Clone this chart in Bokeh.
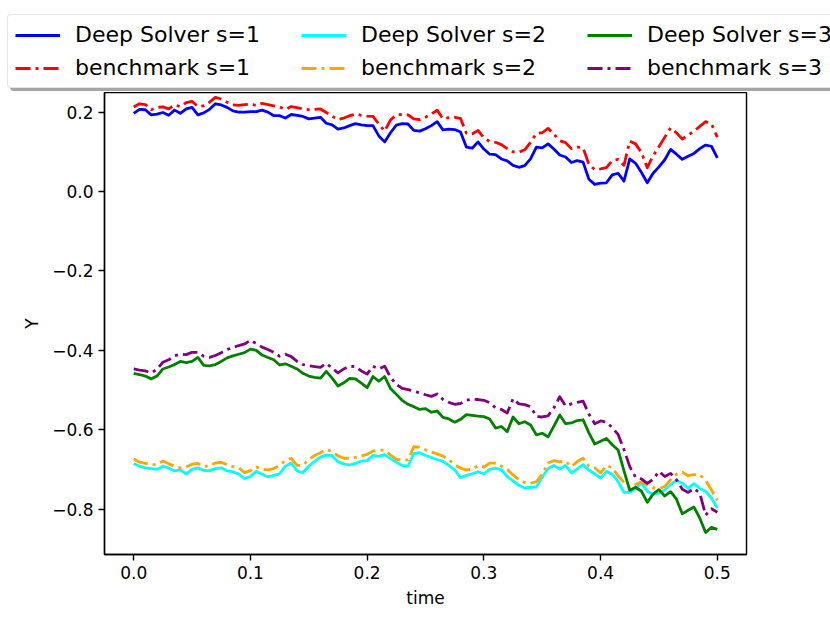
import numpy as np
from bokeh.plotting import figure
from bokeh.models import Legend, LegendItem, FixedTicker, Range1d
from bokeh.layouts import column
from bokeh.embed import file_html
from bokeh.resources import INLINE

time = np.linspace(0.0, 0.5, 101)

ds1 = [0.197,0.207,0.206,0.193,0.195,0.199,0.192,0.205,0.197,0.208,
       0.212,0.193,0.198,0.207,0.221,0.218,0.212,0.203,0.200,0.200,
       0.201,0.201,0.205,0.200,0.191,0.191,0.185,0.194,0.192,0.189,
       0.183,0.185,0.187,0.172,0.168,0.157,0.160,0.166,0.171,0.168,
       0.166,0.166,0.140,0.125,0.148,0.167,0.171,0.170,0.154,0.152,
       0.158,0.166,0.176,0.155,0.157,0.156,0.150,0.112,0.109,0.125,
       0.107,0.094,0.093,0.082,0.077,0.066,0.061,0.065,0.082,0.112,
       0.110,0.120,0.107,0.092,0.087,0.073,0.078,0.074,0.031,0.018,
       0.021,0.022,0.042,0.046,0.026,0.082,0.071,0.048,0.022,0.046,
       0.062,0.080,0.106,0.094,0.081,0.089,0.096,0.108,0.117,0.114,
       0.085]

bm1 = [0.213,0.221,0.219,0.206,0.212,0.213,0.208,0.218,0.214,0.224,
       0.227,0.214,0.216,0.225,0.237,0.233,0.225,0.218,0.217,0.219,
       0.220,0.217,0.222,0.219,0.216,0.213,0.207,0.214,0.211,0.208,
       0.206,0.207,0.208,0.199,0.190,0.181,0.185,0.191,0.195,0.192,
       0.190,0.189,0.170,0.152,0.180,0.193,0.194,0.193,0.183,0.181,
       0.187,0.195,0.205,0.183,0.186,0.187,0.184,0.147,0.145,0.154,
       0.135,0.126,0.124,0.118,0.108,0.100,0.099,0.105,0.124,0.146,
       0.148,0.159,0.145,0.128,0.123,0.108,0.112,0.110,0.068,0.055,
       0.057,0.060,0.078,0.081,0.066,0.127,0.120,0.098,0.060,0.090,
       0.113,0.137,0.160,0.148,0.132,0.142,0.152,0.164,0.176,0.170,
       0.137]

ds2 = [-0.685,-0.692,-0.696,-0.698,-0.700,-0.692,-0.697,-0.704,-0.701,-0.712,
       -0.700,-0.696,-0.703,-0.703,-0.698,-0.696,-0.704,-0.706,-0.712,-0.723,
       -0.718,-0.705,-0.712,-0.719,-0.715,-0.711,-0.692,-0.684,-0.704,-0.708,
       -0.692,-0.680,-0.669,-0.664,-0.665,-0.681,-0.686,-0.689,-0.685,-0.679,
       -0.678,-0.665,-0.667,-0.663,-0.673,-0.682,-0.690,-0.692,-0.660,-0.658,
       -0.665,-0.670,-0.675,-0.680,-0.690,-0.701,-0.721,-0.715,-0.711,-0.706,
       -0.711,-0.700,-0.697,-0.701,-0.718,-0.729,-0.740,-0.747,-0.745,-0.744,
       -0.720,-0.698,-0.690,-0.699,-0.690,-0.709,-0.699,-0.688,-0.702,-0.711,
       -0.722,-0.705,-0.712,-0.731,-0.758,-0.758,-0.748,-0.734,-0.755,-0.763,
       -0.760,-0.752,-0.738,-0.728,-0.735,-0.748,-0.736,-0.748,-0.755,-0.772,
       -0.797]

bm2 = [-0.674,-0.682,-0.685,-0.688,-0.688,-0.679,-0.686,-0.692,-0.696,-0.694,
       -0.687,-0.685,-0.693,-0.690,-0.684,-0.682,-0.688,-0.693,-0.696,-0.708,
       -0.703,-0.694,-0.700,-0.701,-0.698,-0.690,-0.678,-0.672,-0.690,-0.690,
       -0.675,-0.665,-0.658,-0.650,-0.655,-0.666,-0.672,-0.672,-0.670,-0.666,
       -0.662,-0.654,-0.651,-0.652,-0.664,-0.674,-0.678,-0.676,-0.643,-0.644,
       -0.651,-0.656,-0.661,-0.667,-0.676,-0.688,-0.697,-0.701,-0.699,-0.691,
       -0.694,-0.684,-0.684,-0.692,-0.700,-0.714,-0.726,-0.733,-0.735,-0.731,
       -0.712,-0.684,-0.678,-0.681,-0.679,-0.693,-0.680,-0.672,-0.692,-0.696,
       -0.709,-0.690,-0.696,-0.716,-0.733,-0.745,-0.738,-0.731,-0.740,-0.746,
       -0.749,-0.743,-0.726,-0.712,-0.707,-0.716,-0.713,-0.713,-0.728,-0.752,
       -0.778]

ds3 = [-0.458,-0.461,-0.465,-0.472,-0.465,-0.447,-0.442,-0.436,-0.428,-0.431,
       -0.428,-0.418,-0.438,-0.439,-0.436,-0.428,-0.419,-0.414,-0.410,-0.406,
       -0.397,-0.400,-0.412,-0.418,-0.424,-0.437,-0.434,-0.440,-0.447,-0.458,
       -0.465,-0.468,-0.470,-0.453,-0.470,-0.490,-0.482,-0.471,-0.472,-0.483,
       -0.494,-0.466,-0.478,-0.466,-0.496,-0.511,-0.526,-0.536,-0.542,-0.549,
       -0.547,-0.556,-0.553,-0.569,-0.573,-0.581,-0.574,-0.562,-0.564,-0.566,
       -0.567,-0.573,-0.596,-0.592,-0.605,-0.568,-0.585,-0.580,-0.588,-0.613,
       -0.609,-0.618,-0.591,-0.563,-0.585,-0.583,-0.577,-0.575,-0.608,-0.636,
       -0.629,-0.622,-0.638,-0.651,-0.703,-0.753,-0.745,-0.755,-0.783,-0.762,
       -0.751,-0.767,-0.756,-0.775,-0.812,-0.803,-0.795,-0.823,-0.859,-0.846,
       -0.851]

bm3 = [-0.447,-0.450,-0.452,-0.457,-0.448,-0.430,-0.424,-0.414,-0.410,-0.411,
       -0.405,-0.405,-0.415,-0.418,-0.413,-0.406,-0.398,-0.393,-0.388,-0.384,
       -0.375,-0.383,-0.392,-0.398,-0.405,-0.415,-0.410,-0.416,-0.428,-0.436,
       -0.439,-0.441,-0.443,-0.433,-0.445,-0.457,-0.447,-0.440,-0.441,-0.452,
       -0.460,-0.440,-0.447,-0.440,-0.468,-0.486,-0.496,-0.499,-0.503,-0.507,
       -0.512,-0.516,-0.510,-0.524,-0.531,-0.536,-0.534,-0.526,-0.523,-0.524,
       -0.526,-0.532,-0.545,-0.549,-0.558,-0.522,-0.535,-0.537,-0.542,-0.567,
       -0.568,-0.565,-0.545,-0.517,-0.540,-0.535,-0.531,-0.528,-0.561,-0.585,
       -0.578,-0.581,-0.595,-0.612,-0.650,-0.693,-0.720,-0.724,-0.735,-0.725,
       -0.705,-0.718,-0.710,-0.726,-0.750,-0.758,-0.748,-0.760,-0.815,-0.799,
       -0.808]

x_ticks = [0.0, 0.1, 0.2, 0.3, 0.4, 0.5]
x_tick_labels = ["0.0", "0.1", "0.2", "0.3", "0.4", "0.5"]
y_ticks = [-0.8, -0.6, -0.4, -0.2, 0.0, 0.2]
y_tick_labels = ["\u22120.8", "\u22120.6", "\u22120.4", "\u22120.2", "0.0", "0.2"]

FONT = "DejaVu Sans"
LW = 2.8
DASH = "15 5 3 5"
series = [
    ("Deep Solver s=1", ds1, "blue", "solid"),
    ("benchmark s=1", bm1, "red", DASH),
    ("Deep Solver s=2", ds2, "cyan", "solid"),
    ("benchmark s=2", bm2, "orange", DASH),
    ("Deep Solver s=3", ds3, "green", "solid"),
    ("benchmark s=3", bm3, "purple", DASH),
]
order = ["Deep Solver s=1", "Deep Solver s=2", "Deep Solver s=3",
         "benchmark s=1", "benchmark s=2", "benchmark s=3"]

# ---- main plot ----
p = figure(width=830, height=620, frame_width=642, frame_height=462,
           min_border_left=104, min_border_right=84,
           min_border_top=0, min_border_bottom=66,
           x_range=Range1d(-0.025, 0.525), y_range=Range1d(-0.9144, 0.2494),
           output_backend="svg", toolbar_location=None,
           background_fill_color="white", border_fill_color="white")

p.xgrid.visible = False
p.ygrid.visible = False
p.outline_line_color = "black"
p.outline_line_width = 1.4
p.outline_line_alpha = 1.0

for ax in (p.xaxis[0], p.yaxis[0]):
    ax.axis_line_width = 1.4
    ax.major_tick_line_width = 1.4
    ax.major_tick_out = 6
    ax.major_tick_in = 0
    ax.minor_tick_line_color = None
    ax.major_label_text_font = FONT
    ax.major_label_text_font_size = "17px"
    ax.major_label_text_color = "black"
    ax.axis_label_text_font = FONT
    ax.axis_label_text_font_size = "17px"
    ax.axis_label_text_font_style = "normal"
    ax.axis_label_text_color = "black"
    ax.major_label_standoff = 5

p.xaxis.ticker = FixedTicker(ticks=x_ticks)
p.xaxis.major_label_overrides = {t: l for t, l in zip(x_ticks, x_tick_labels)}
p.yaxis.ticker = FixedTicker(ticks=y_ticks)
p.yaxis.major_label_overrides = {t: l for t, l in zip(y_ticks, y_tick_labels)}
p.xaxis.axis_label = "time"
p.yaxis.axis_label = "Y"
p.xaxis.axis_label_standoff = 6
p.yaxis.axis_label_standoff = 7

for name, ys, color, dash in series:
    p.line(time, ys, line_color=color, line_width=LW, line_dash=dash,
           line_join="round")

# ---- legend strip (drawn above the plot frame) ----
q = figure(width=830, height=92, frame_width=830, frame_height=92,
           min_border=0, x_range=Range1d(0, 1), y_range=Range1d(5, 6),
           x_axis_location=None, y_axis_location=None,
           output_backend="svg", toolbar_location=None,
           background_fill_color="white", border_fill_color="white")
q.xgrid.visible = False
q.ygrid.visible = False
q.outline_line_color = None

leg_renderers = {}
ghost_renderers = {}
for name, ys, color, dash in series:
    leg_renderers[name] = q.line(time, ys, line_color=color, line_width=LW,
                                 line_dash=dash, line_join="round")
    ghost_renderers[name] = q.line(time, ys, line_color=color, line_alpha=0.0,
                                   line_width=LW)

common = dict(orientation="horizontal", ncols=3,
              label_text_font=FONT, label_text_font_size="22px",
              glyph_width=45, glyph_height=24, label_height=24,
              label_width=218, label_standoff=15, spacing=8, padding=7,
              margin=0)

# shadow of the legend box (same geometry, no visible text)
shadow = Legend(items=[LegendItem(label=" ", renderers=[ghost_renderers[n]]) for n in order],
                location=(10, 1), label_text_alpha=0.0,
                border_line_color=None,
                background_fill_color="#4d4d4d", background_fill_alpha=0.5,
                **common)
q.add_layout(shadow)

legend = Legend(items=[LegendItem(label=n, renderers=[leg_renderers[n]]) for n in order],
                location=(7, 4), label_text_color="black",
                border_line_color="#cccccc", border_line_width=1,
                background_fill_color="white", background_fill_alpha=1.0,
                **common)
for lg in (shadow, legend):
    try:
        lg.border_radius = 4
    except Exception:
        pass
q.add_layout(legend)

layout = column(q, p, spacing=0)
open("out.html", "w").write(file_html(layout, INLINE))
